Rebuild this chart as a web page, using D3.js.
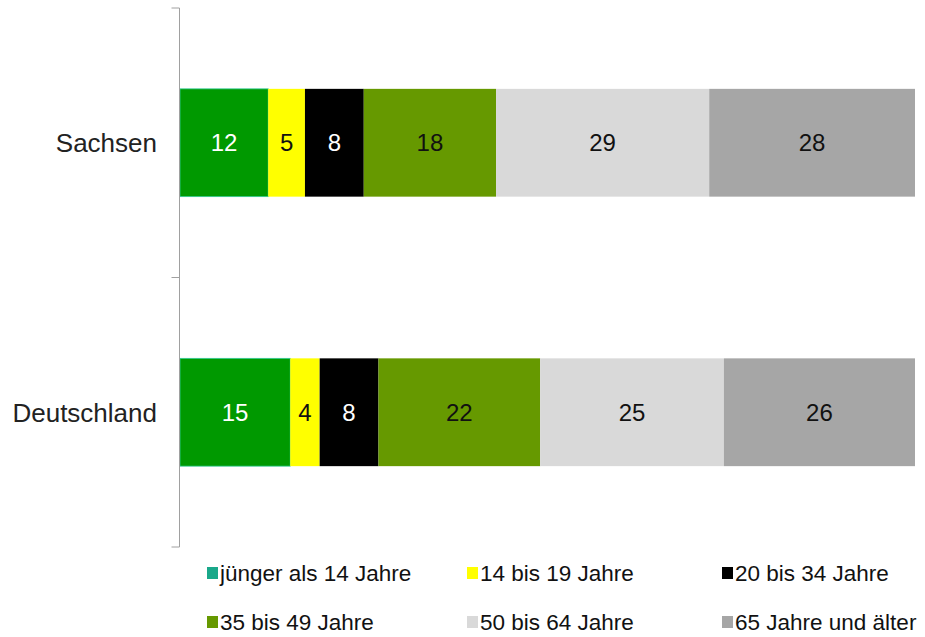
<!DOCTYPE html>
<html>
<head>
<meta charset="utf-8">
<script src="https://cdn.jsdelivr.net/npm/d3@7"></script>
<style>
  body { margin: 0; background: #fff; }
  svg { display: block; font-family: 'Liberation Sans', Arial, sans-serif; }
</style>
</head>
<body>
<div id="chart"></div>
<script>
const regions = ['Sachsen', 'Deutschland']
const ageGroups = ['jünger als 14 Jahre', '14 bis 19 Jahre', '20 bis 34 Jahre',
  '35 bis 49 Jahre', '50 bis 64 Jahre', '65 Jahre und älter']
const sachsen = [12, 5, 8, 18, 29, 28]
const deutschland = [15, 4, 8, 22, 25, 26]
const barColors = ['#009900', '#ffff00', '#000000', '#669900', '#d9d9d9', '#a6a6a6']
const legendColors = ['#1aa88a', '#ffff00', '#000000', '#669900', '#d9d9d9', '#a6a6a6']
const labelColors = ['#fff', '#111', '#fff', '#111', '#111', '#111']

const width = 925
const height = 637
const margin = { top: 8, right: 10, bottom: 90, left: 180 }

const svg = d3.select('#chart').append('svg')
  .attr('width', width)
  .attr('height', height)

const x = d3.scaleLinear()
  .domain([0, 100])
  .range([margin.left, width - margin.right])

const y = d3.scaleBand()
  .domain(regions)
  .range([margin.top, height - margin.bottom])
  .paddingInner(0.6)
  .paddingOuter(0.3)

// stack the values per region
const rows = regions.map((r, i) => {
  const vals = i === 0 ? sachsen : deutschland
  const row = { region: r }
  ageGroups.forEach((g, j) => { row[g] = vals[j] })
  return row
})
const series = d3.stack().keys(ageGroups)(rows)

series.forEach((s, j) => {
  const g = svg.append('g')
  g.selectAll('rect')
    .data(s)
    .join('rect')
    .attr('x', d => x(d[0]))
    .attr('y', d => y(d.data.region))
    .attr('width', d => x(d[1]) - x(d[0]))
    .attr('height', y.bandwidth())
    .attr('fill', barColors[j])
    .attr('stroke', j === 0 ? '#33cc99' : 'none')
    .attr('stroke-width', 0.8)

  g.selectAll('text')
    .data(s)
    .join('text')
    .attr('x', d => (x(d[0]) + x(d[1])) / 2)
    .attr('y', d => y(d.data.region) + y.bandwidth() / 2)
    .attr('dy', '0.36em')
    .attr('text-anchor', 'middle')
    .attr('font-size', '24px')
    .attr('fill', labelColors[j])
    .text(d => d[1] - d[0])
})

// category axis with ticks between bands
const axisX = margin.left - 0.5
const bounds = [margin.top, margin.top + y.step(), height - margin.bottom]
svg.append('line')
  .attr('x1', axisX).attr('x2', axisX)
  .attr('y1', margin.top).attr('y2', height - margin.bottom)
  .attr('stroke', '#a0a0a0')
svg.selectAll('line.tick')
  .data(bounds)
  .join('line')
  .attr('class', 'tick')
  .attr('x1', axisX - 8).attr('x2', axisX)
  .attr('y1', d => d).attr('y2', d => d)
  .attr('stroke', '#a0a0a0')

svg.selectAll('text.cat')
  .data(regions)
  .join('text')
  .attr('class', 'cat')
  .attr('x', 157)
  .attr('y', d => y(d) + y.bandwidth() / 2)
  .attr('dy', '0.36em')
  .attr('text-anchor', 'end')
  .attr('font-size', '26px')
  .attr('fill', '#222')
  .text(d => d)

// Legend
const legendX = [207, 467, 722]
const legendY = [573, 622]
const legend = svg.selectAll('g.legend')
  .data(ageGroups)
  .join('g')
  .attr('class', 'legend')
  .attr('transform', (d, i) => `translate(${legendX[i % 3]},${legendY[Math.floor(i / 3)]})`)

legend.append('rect')
  .attr('x', 0)
  .attr('y', -6)
  .attr('width', 11)
  .attr('height', 12)
  .attr('fill', (d, i) => legendColors[i])

legend.append('text')
  .attr('x', 13)
  .attr('dy', '0.36em')
  .attr('font-size', '22.5px')
  .attr('fill', '#111')
  .text(d => d)
</script>
</body>
</html>
